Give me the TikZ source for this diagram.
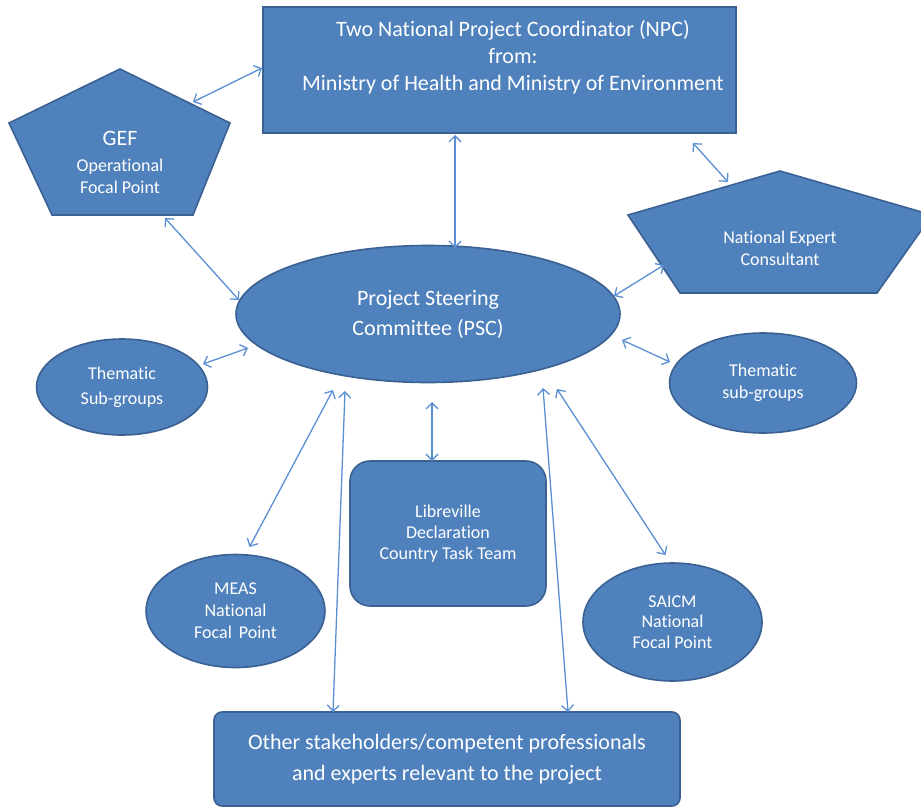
\documentclass[tikz,border=0pt]{standalone}
\usepackage{fontspec}
\setmainfont{Carlito}[Ligatures=NoCommon]
\usetikzlibrary{arrows.meta,shapes.geometric}
\definecolor{boxfill}{HTML}{4F81BD}
\definecolor{boxline}{HTML}{3A6192}
\definecolor{arrowcol}{HTML}{5B8FD3}
\tikzset{
  shapestyle/.style={fill=boxfill,draw=boxline,line width=1.6pt},
  bigtext/.style={text=white,align=center,font=\fontsize{22}{27}\selectfont},
  smalltext/.style={text=white,align=center,font=\fontsize{18}{22}\selectfont},
  link/.style={draw=arrowcol,line width=1.3pt,
    {Straight Barb[length=6pt,width=12pt]}-{Straight Barb[length=6pt,width=12pt]}},
  ell/.style={ellipse,shapestyle,inner sep=0pt}
}
\begin{document}
\begin{tikzpicture}[x=1pt,y=-1pt]
\useasboundingbox (0,0) rectangle (921,811);

% NPC box
\node[shapestyle,rectangle,minimum width=473pt,minimum height=126pt,inner sep=0pt] (npc) at (499.5,70) {};
\node[bigtext,inner sep=0pt] (npctext) at (513,57)
  {Two National Project Coordinator (NPC)\\from:\\Ministry of Health and Ministry of Environment};

% GEF pentagon
\draw[shapestyle] (120,69) -- (230,123) -- (193,215) -- (52,215) -- (9,123) -- cycle;
\node[text=white,align=center,inner sep=0pt,font=\fontsize{18}{22}\selectfont] (gef) at (120,162)
  {{\fontsize{22}{26}\selectfont GEF}\\[4pt]Operational\\Focal Point};

% National Expert pentagon
\draw[shapestyle] (780,171) -- (932,215) -- (877,293) -- (680,293) -- (628,215) -- cycle;
\node[smalltext,inner sep=0pt] (nex) at (780,248) {National Expert\\Consultant};

% PSC
\node[ell,minimum width=384pt,minimum height=137pt,text=white,align=center,
      font=\fontsize{22}{30}\selectfont] (psc) at (428,314)
  {Project Steering\\Committee (PSC)};

% Thematic sub-groups
\node[ell,minimum width=171pt,minimum height=96pt,text=white,align=center,
      font=\fontsize{18}{25}\selectfont] (thl) at (122,387)
  {Thematic\\Sub-groups};
\node[ell,minimum width=187pt,minimum height=100pt,smalltext] (thr) at (763,383)
  {Thematic\\sub-groups};

% Libreville
\node[shapestyle,rectangle,rounded corners=20pt,minimum width=196pt,minimum height=145pt,
      inner sep=0pt,text=white,align=center,font=\fontsize{18}{21}\selectfont] (lib) at (448,533.5)
  {Libreville\\Declaration\\Country Task Team};

% MEAS, SAICM
\node[ell,minimum width=179pt,minimum height=113pt,smalltext] (meas) at (235.5,611)
  {MEAS\\National\\Focal\ \,Point};
\node[ell,minimum width=179pt,minimum height=118pt,text=white,align=center,
      font=\fontsize{18}{20.5}\selectfont] (saicm) at (672.5,622)
  {SAICM\\National\\Focal Point};

% Other stakeholders
\node[shapestyle,rectangle,rounded corners=8pt,minimum width=466pt,minimum height=94pt,
      inner sep=0pt,text=white,align=center,font=\fontsize{22}{31}\selectfont] (oth) at (447,759)
  {Other stakeholders/competent professionals\\and experts relevant to the project};

% connectors
\draw[link] ([shift={(-237.5,-2)}]npc.center) -- ([shift={(73,-60)}]gef.center);
\draw[link] ([shift={(-44.5,65)}]npc.center) -- ([shift={(27,-66)}]psc.center);
\draw[link] ([shift={(193.5,73)}]npc.center) -- ([shift={(-52,-66)}]nex.center);
\draw[link] ([shift={(45,56)}]gef.center) -- ([shift={(-189,-14)}]psc.center);
\draw[link] ([shift={(-116,17)}]nex.center) -- ([shift={(186,-18)}]psc.center);
\draw[link] ([shift={(-180,34)}]psc.center) -- ([shift={(81,-23)}]thl.center);
\draw[link] ([shift={(194,26)}]psc.center) -- ([shift={(-93,-21)}]thr.center);
\draw[link] ([shift={(4,88)}]psc.center) -- ([shift={(-16,-72.5)}]lib.center);
\draw[link] ([shift={(-95,76)}]psc.center) -- ([shift={(14,-64)}]meas.center);
\draw[link] ([shift={(-83,77)}]psc.center) -- ([shift={(-114,-47)}]oth.center);
\draw[link] ([shift={(115,74)}]psc.center) -- ([shift={(121,-47)}]oth.center);
\draw[link] ([shift={(129,75)}]psc.center) -- ([shift={(-7,-67)}]saicm.center);
\end{tikzpicture}
\end{document}
